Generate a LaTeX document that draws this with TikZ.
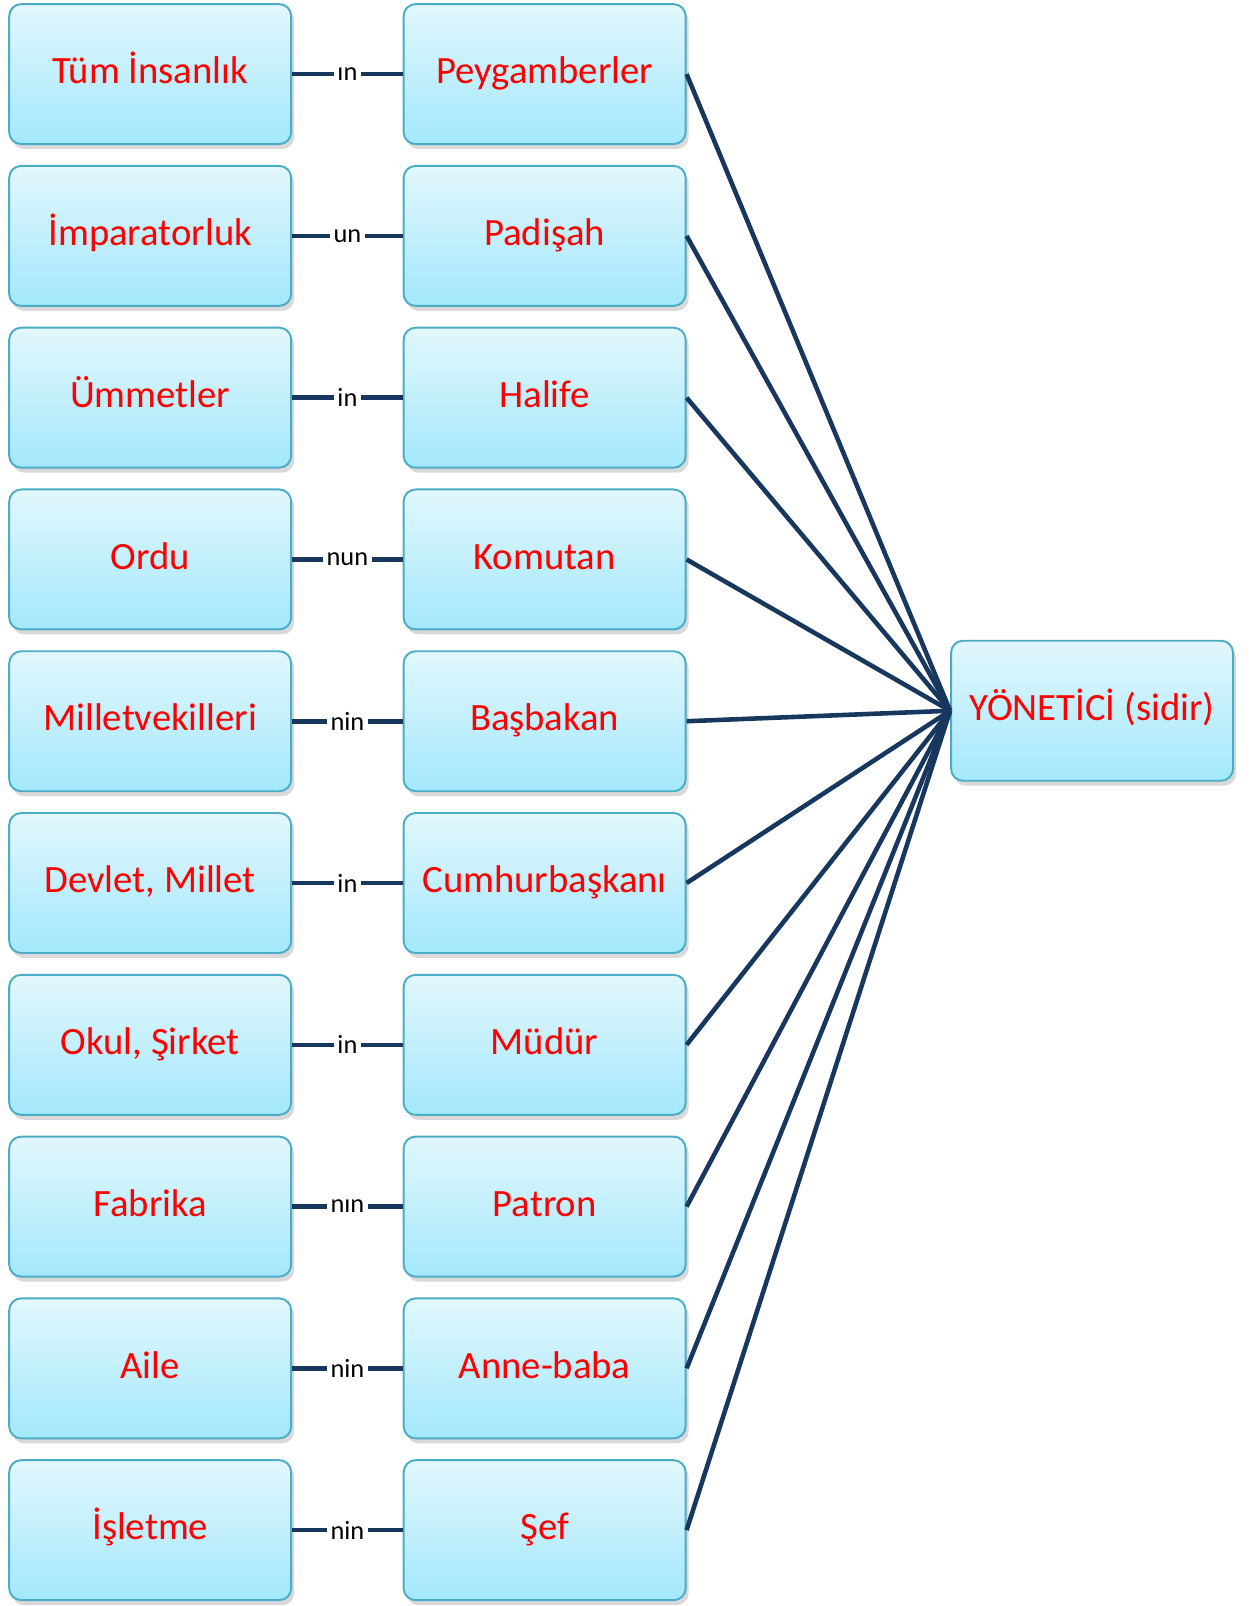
\documentclass[tikz,border=0pt]{standalone}
\usepackage{fontspec}
\setmainfont{Carlito}
\usetikzlibrary{positioning,shadows}
\definecolor{kutuust}{RGB}{226,247,253}
\definecolor{kutualt}{RGB}{163,232,251}
\definecolor{kenar}{RGB}{75,172,198}
\definecolor{lacivert}{RGB}{23,55,94}

\begin{document}
\begin{tikzpicture}[kutu/.style={rectangle,rounded corners=2.4mm,draw=kenar,line width=1.1pt,top color=kutuust,bottom color=kutualt,minimum width=5.64cm,minimum height=2.8cm,inner sep=0pt,text height=15.5pt,text depth=4.5pt,text=red,font=\fontsize{22}{26}\selectfont,drop shadow={opacity=0.3,shadow xshift=0.6mm,shadow yshift=-1mm}},
		ek/.style={fill=white,inner sep=2pt,font=\fontsize{15}{17}\selectfont},
		bag/.style={draw=lacivert,line width=2.6pt}]
		\useasboundingbox (0,0) rectangle (25.06,-32.12);

		\node[kutu] at (3.004,-1.482)							(l1)	{Tüm İnsanlık};
		\node[kutu,node distance=3.97mm,below=of l1]			(l2)	{İmparatorluk};
		\node[kutu,node distance=3.97mm,below=of l2]			(l3)	{Ümmetler};
		\node[kutu,node distance=3.97mm,below=of l3]			(l4)	{Ordu};
		\node[kutu,node distance=3.97mm,below=of l4]			(l5)	{Milletvekilleri};
		\node[kutu,node distance=3.97mm,below=of l5]			(l6)	{Devlet, Millet};
		\node[kutu,node distance=3.97mm,below=of l6]			(l7)	{Okul, Şirket};
		\node[kutu,node distance=3.97mm,below=of l7]			(l8)	{Fabrika};
		\node[kutu,node distance=3.97mm,below=of l8]			(l9)	{Aile};
		\node[kutu,node distance=3.97mm,below=of l9]			(l10)	{İşletme};

		\node[kutu,node distance=22.1mm,right=of l1]			(m1)	{Peygamberler};
		\node[kutu,node distance=22.1mm,right=of l2]			(m2)	{Padişah};
		\node[kutu,node distance=22.1mm,right=of l3]			(m3)	{Halife};
		\node[kutu,node distance=22.1mm,right=of l4]			(m4)	{Komutan};
		\node[kutu,node distance=22.1mm,right=of l5]			(m5)	{Başbakan};
		\node[kutu,node distance=22.1mm,right=of l6]			(m6)	{Cumhurbaşkanı};
		\node[kutu,node distance=22.1mm,right=of l7]			(m7)	{Müdür};
		\node[kutu,node distance=22.1mm,right=of l8]			(m8)	{Patron};
		\node[kutu,node distance=22.1mm,right=of l9]			(m9)	{Anne-baba};
		\node[kutu,node distance=22.1mm,right=of l10]			(m10)	{Şef};

		\node[kutu,node distance=52.7mm,right=of m5,yshift=2.1mm]	(y)		{YÖNETİCİ (sidir)};

		\draw[bag] (l1) -- node[ek] {ın} (m1);
		\draw[bag] (l2) -- node[ek] {un} (m2);
		\draw[bag] (l3) -- node[ek] {in} (m3);
		\draw[bag] (l4) -- node[ek] {nun} (m4);
		\draw[bag] (l5) -- node[ek] {nin} (m5);
		\draw[bag] (l6) -- node[ek] {in} (m6);
		\draw[bag] (l7) -- node[ek] {in} (m7);
		\draw[bag] (l8) -- node[ek] {nın} (m8);
		\draw[bag] (l9) -- node[ek] {nin} (m9);
		\draw[bag] (l10) -- node[ek] {nin} (m10);

		\draw[bag] (m1.east) -- (y.west);
		\draw[bag] (m2.east) -- (y.west);
		\draw[bag] (m3.east) -- (y.west);
		\draw[bag] (m4.east) -- (y.west);
		\draw[bag] (m5.east) -- (y.west);
		\draw[bag] (m6.east) -- (y.west);
		\draw[bag] (m7.east) -- (y.west);
		\draw[bag] (m8.east) -- (y.west);
		\draw[bag] (m9.east) -- (y.west);
		\draw[bag] (m10.east) -- (y.west);
	\end{tikzpicture}
\end{document}
